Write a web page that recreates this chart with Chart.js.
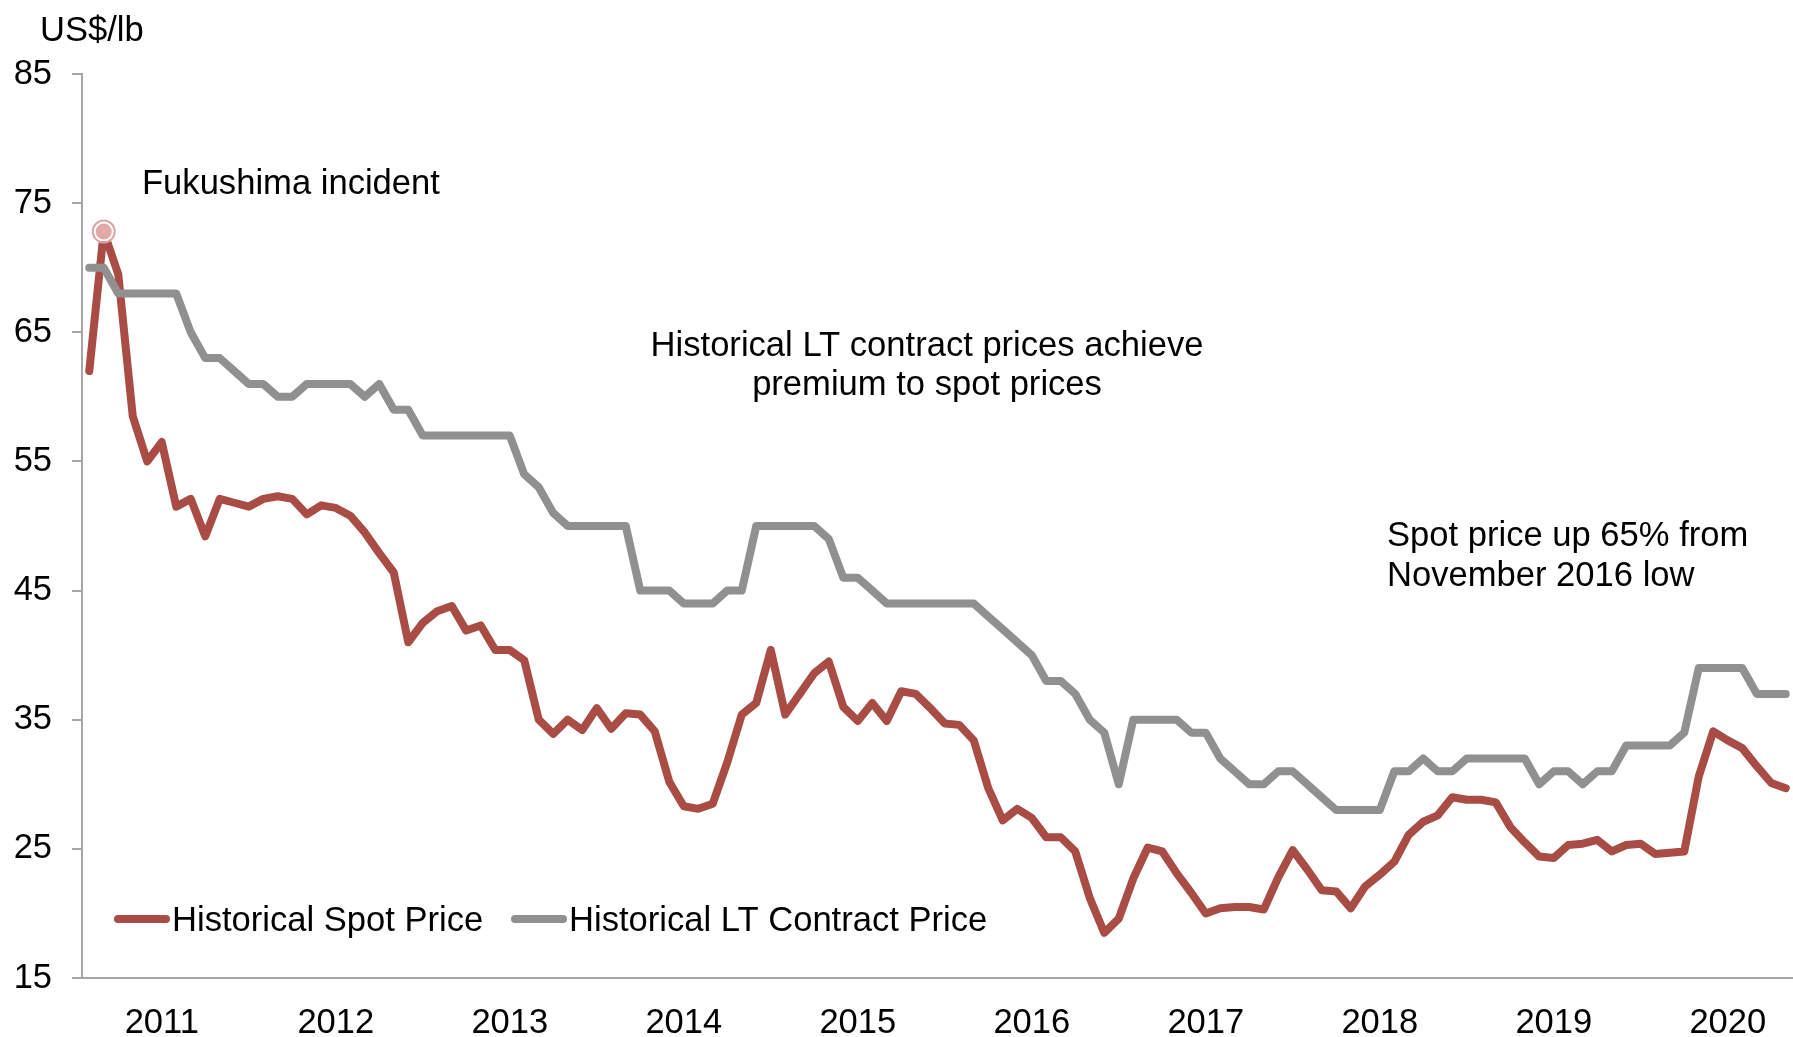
<!DOCTYPE html>
<html>
<head>
<meta charset="utf-8">
<script src="https://cdn.jsdelivr.net/npm/chart.js@4.4.1/dist/chart.umd.min.js"></script>
<style>
  html, body { margin: 0; padding: 0; background: #fff; }
  #wrap { width: 1793px; height: 1037px; position: relative; }
</style>
</head>
<body>
<div id="wrap"><canvas id="uraniumChart"></canvas></div>
<script>
// monthly series, Jan 2011 onwards (US$/lb)
const startYear = 2011;
const monthNames = ['Jan', 'Feb', 'Mar', 'Apr', 'May', 'Jun', 'Jul', 'Aug', 'Sep', 'Oct', 'Nov', 'Dec'];
const yearLabels = ['2011', '2012', '2013', '2014', '2015', '2016', '2017', '2018', '2019', '2020'];

const spotPrice = [
    62.0, 72.8, 69.5, 58.5, 55.0, 56.5, 51.5, 52.1, 49.2, 52.1, 51.8, 51.5,
    52.1, 52.3, 52.1, 50.9, 51.6, 51.4, 50.8, 49.5, 47.9, 46.4, 41.0, 42.5,
    43.4, 43.8, 41.9, 42.3, 40.4, 40.4, 39.6, 35.0, 33.9, 35.0, 34.2, 35.9,
    34.3, 35.5, 35.4, 34.1, 30.2, 28.3, 28.1, 28.5, 31.7, 35.4, 36.3, 40.4,
    35.4, 37.0, 38.6, 39.5, 36.0, 34.9, 36.3, 34.9, 37.2, 37.0, 35.9, 34.7,
    34.6, 33.4, 29.7, 27.2, 28.1, 27.4, 25.9, 25.9, 24.8, 21.2, 18.5, 19.6,
    22.7, 25.1, 24.8, 23.1, 21.6, 20.0, 20.4, 20.5, 20.5, 20.3, 22.8, 24.9,
    23.4, 21.8, 21.7, 20.4, 22.1, 23.0, 24.0, 26.1, 27.1, 27.6, 29.0, 28.8,
    28.8, 28.6, 26.7, 25.5, 24.4, 24.3, 25.3, 25.4, 25.7, 24.8, 25.3, 25.4,
    24.6, 24.7, 24.8, 30.6, 34.1, 33.4, 32.8, 31.4, 30.1, 29.7
];

const contractPrice = [
    70, 70, 68, 68, 68, 68, 68, 65, 63, 63, 62, 61,
    61, 60, 60, 61, 61, 61, 61, 60, 61, 59, 59, 57,
    57, 57, 57, 57, 57, 57, 54, 53, 51, 50, 50, 50,
    50, 50, 45, 45, 45, 44, 44, 44, 45, 45, 50, 50,
    50, 50, 50, 49, 46, 46, 45, 44, 44, 44, 44, 44,
    44, 44, 43, 42, 41, 40, 38, 38, 37, 35, 34, 30,
    35, 35, 35, 35, 34, 34, 32, 31, 30, 30, 31, 31,
    30, 29, 28, 28, 28, 28, 31, 31, 32, 31, 31, 32,
    32, 32, 32, 32, 30, 31, 31, 30, 31, 31, 33, 33,
    33, 33, 34, 39, 39, 39, 39, 37, 37, 37
];

const peakIndex = 1; // Fukushima incident

const months = spotPrice.map((v, i) => monthNames[i % 12] + '-' + (startYear + Math.floor(i / 12)));

const fontFamily = '"Liberation Sans", Arial, sans-serif';
const spotColor = '#a94c45';
const contractColor = '#909090';
const axisColor = '#a6a6a6';

Chart.defaults.font.family = fontFamily;
Chart.defaults.font.size = 34.5;
Chart.defaults.color = '#000';

// peak ring, texts and legend drawn on the canvas
const chartText = {
    id: 'chartText',
    afterDatasetsDraw(chart) {
        const ctx = chart.ctx;
        const meta = chart.getDatasetMeta(1);
        const peak = meta.data[peakIndex];
        ctx.save();
        ctx.beginPath();
        ctx.arc(peak.x, peak.y, 11, 0, Math.PI * 2);
        ctx.lineWidth = 2;
        ctx.strokeStyle = '#e2a3a3';
        ctx.stroke();
        ctx.restore();
    },
    afterDraw(chart) {
        const ctx = chart.ctx;
        ctx.save();
        ctx.font = '34.6px ' + fontFamily;
        ctx.fillStyle = '#000';
        ctx.textBaseline = 'middle';

        ctx.textAlign = 'left';
        ctx.fillText('US$/lb', 40, 31);
        ctx.fillText('Fukushima incident', 142, 184);
        ctx.fillText('Spot price up 65% from', 1387, 536);
        ctx.fillText('November 2016 low', 1387, 576);

        ctx.textAlign = 'center';
        ctx.fillText('Historical LT contract prices achieve', 927, 346);
        ctx.fillText('premium to spot prices', 927, 385);

        // legend
        const items = [
            { ds: chart.data.datasets[1], x: 118 },
            { ds: chart.data.datasets[0], x: 515 }
        ];
        ctx.textAlign = 'left';
        for (let item of items) {
            ctx.beginPath();
            ctx.moveTo(item.x, 919);
            ctx.lineTo(item.x + 48, 919);
            ctx.lineWidth = 8;
            ctx.lineCap = 'round';
            ctx.strokeStyle = item.ds.borderColor;
            ctx.stroke();
            ctx.fillText(item.ds.label, item.x + 54, 921);
        }
        ctx.restore();
    }
};

const chartElement = document.getElementById('uraniumChart');

const uraniumChart = new Chart(chartElement, {
    type: 'line',
    data: {
        labels: months,
        datasets: [
            {
                label: 'Historical LT Contract Price',
                data: contractPrice,
                borderColor: contractColor,
                backgroundColor: contractColor,
                borderWidth: 8,
                borderJoinStyle: 'round',
                borderCapStyle: 'round',
                pointRadius: 0,
                tension: 0,
            },
            {
                label: 'Historical Spot Price',
                data: spotPrice,
                borderColor: spotColor,
                backgroundColor: spotColor,
                borderWidth: 8,
                borderJoinStyle: 'round',
                borderCapStyle: 'round',
                pointRadius: (ctx) => ctx.dataIndex === peakIndex ? 9 : 0,
                pointBackgroundColor: '#e2a9a9',
                pointBorderColor: '#ffffff',
                pointBorderWidth: 2,
                tension: 0,
            },
        ],
    },
    plugins: [chartText],
    options: {
        responsive: true,
        maintainAspectRatio: false,
        animation: false,
        events: [],
        layout: {
            padding: { top: 74, right: 0, bottom: 0, left: 0 }
        },
        plugins: {
            legend: { display: false },
            tooltip: { enabled: false },
        },
        scales: {
            x: {
                type: 'category',
                offset: true,
                grid: { display: false, drawTicks: false },
                border: { display: true, color: axisColor, width: 2 },
                ticks: {
                    autoSkip: false,
                    maxRotation: 0,
                    padding: 25,
                    callback: (value, index) => index % 12 === 5 ? yearLabels[Math.floor(index / 12)] : '',
                },
                afterFit: (scale) => {
                    scale.height = 59;
                    scale.paddingLeft = 0;
                    scale.paddingRight = 0;
                },
            },
            y: {
                min: 15,
                max: 85,
                grid: { drawOnChartArea: false, drawTicks: true, tickLength: 10, color: axisColor, lineWidth: 2 },
                border: { display: true, color: axisColor, width: 2 },
                ticks: {
                    stepSize: 10,
                    padding: 20,
                },
                afterFit: (scale) => { scale.width = 82; },
            },
        },
    },
});
</script>
</body>
</html>
